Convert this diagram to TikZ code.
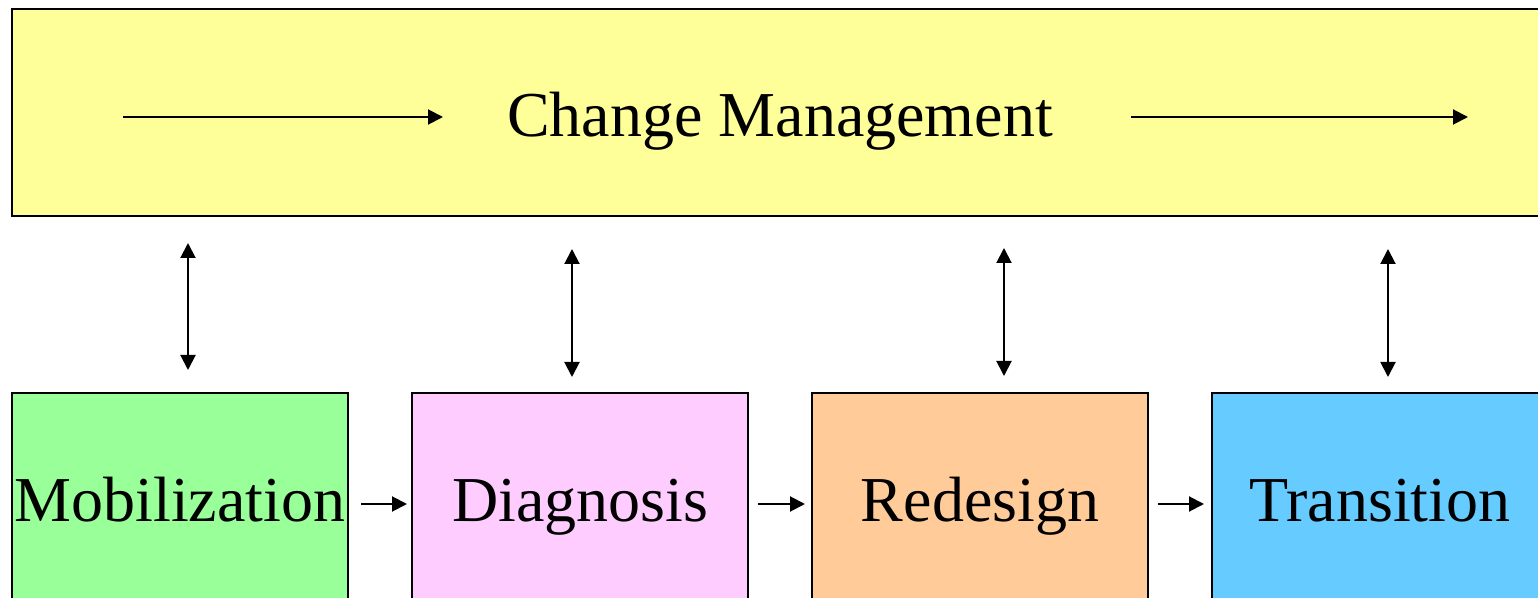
\documentclass[tikz,border=0pt]{standalone}
\usepackage{fontspec}
\setmainfont{Liberation Serif}
\usetikzlibrary{arrows.meta}
\definecolor{cmyellow}{HTML}{FFFF99}
\definecolor{mobgreen}{HTML}{99FF99}
\definecolor{diapink}{HTML}{FFCCFF}
\definecolor{redorange}{HTML}{FFCC99}
\definecolor{trablue}{HTML}{66CCFF}
\tikzset{
  phase/.style={draw=black, line width=1pt, minimum width=168pt, minimum height=111pt,
    inner sep=0pt, text height=24pt, text depth=6pt,
    font=\fontsize{32}{38}\selectfont},
  banner/.style={draw=black, line width=1pt, fill=cmyellow, minimum width=768pt,
    minimum height=103.5pt, inner sep=0pt, text height=30.5pt, text depth=6pt,
    font=\fontsize{32}{38}\selectfont},
  flow/.style={line width=1pt, -{Triangle[length=7.5pt,width=7.5pt]}},
  link/.style={line width=1pt, {Triangle[length=7.5pt,width=7.5pt]}-{Triangle[length=7.5pt,width=7.5pt]}}
}
\begin{document}
\begin{tikzpicture}[x=0.5pt, y=-0.5pt]
  \useasboundingbox (0,0) rectangle (1538,598);
  \clip (0,0) rectangle (1538,598);
  \fill[white] (0,0) rectangle (1538,598);

  % change management banner
  \node[banner] (cm) at (780,112.5) {Change Management};
  \coordinate (la) at (123,117);  \coordinate (lb) at (443,117);
  \coordinate (ra) at (1131,117); \coordinate (rb) at (1468,117);
  \draw[flow] (la) -- (lb);
  \draw[flow] (ra) -- (rb);

  % project phases
  \node[phase, fill=mobgreen]  (mob) at (180,504)  {Mobilization};
  \node[phase, fill=diapink]   (dia) at (580,504)  {Diagnosis};
  \node[phase, fill=redorange] (red) at (980,504)  {Redesign};
  \node[phase, fill=trablue]   (tra) at (1380,504) {Transition};

  \draw[flow, shorten <=6pt, shorten >=2pt] (mob.east) -- (dia.west);
  \draw[flow, shorten <=4.5pt, shorten >=3pt] (dia.east) -- (red.west);
  \draw[flow, shorten <=4.5pt, shorten >=3.5pt] (red.east) -- (tra.west);

  % links between phases and change management
  \coordinate (m1) at (188,243);  \coordinate (m2) at (188,370);
  \coordinate (d1) at (572,249);  \coordinate (d2) at (572,377);
  \coordinate (r1) at (1004,248); \coordinate (r2) at (1004,376);
  \coordinate (t1) at (1388,249); \coordinate (t2) at (1388,377);
  \draw[link] (m1) -- (m2);
  \draw[link] (d1) -- (d2);
  \draw[link] (r1) -- (r2);
  \draw[link] (t1) -- (t2);
\end{tikzpicture}
\end{document}
